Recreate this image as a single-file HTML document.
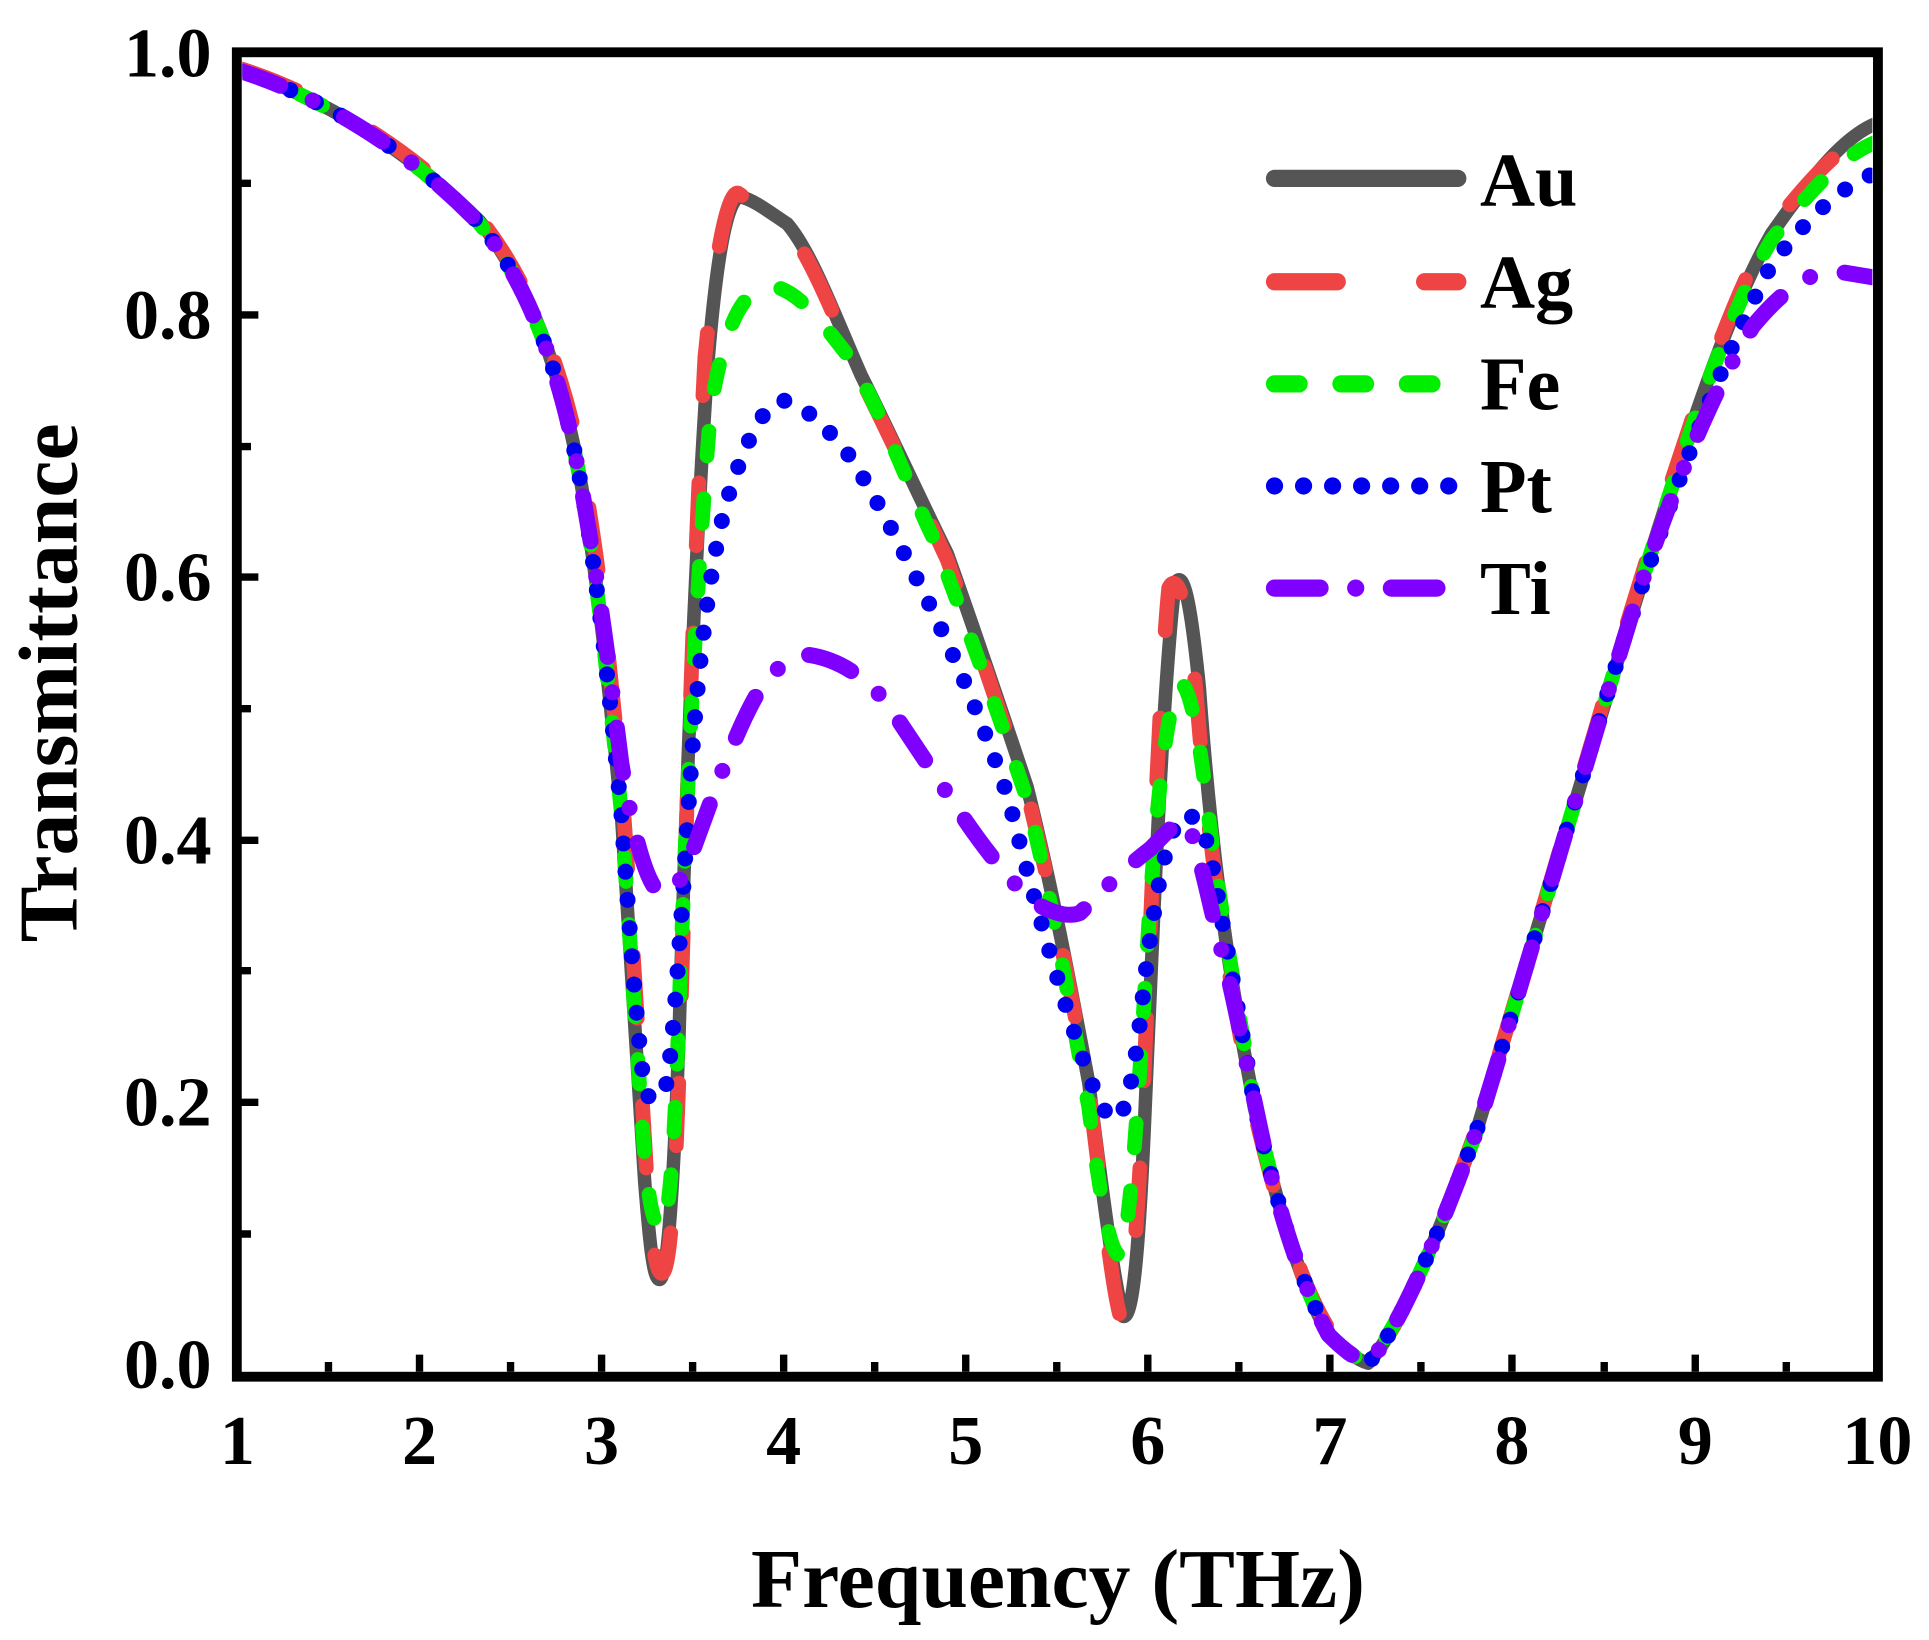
<!DOCTYPE html>
<html><head><meta charset="utf-8"><style>html,body{margin:0;padding:0;background:#fff}svg{display:block}</style></head>
<body>
<svg width="1929" height="1640" viewBox="0 0 1568 1333" preserveAspectRatio="none" xmlns="http://www.w3.org/2000/svg" font-family="'Liberation Serif',serif" font-weight="bold">
<defs>
<clipPath id="c"><rect x="197" y="47" width="1325" height="1068"/></clipPath>
</defs>
<g clip-path="url(#c)" fill="none" stroke-linejoin="round">
<!-- Au -->
<path stroke="#555" stroke-width="11" d="M193,57 C260,78 330,120 390,180 C430,230 455,300 470,380 C485,460 495,560 505,660 C512,760 518,860 524,960 C528,1010 531,1040 536,1040 C542,1040 547,980 552,840 C556,700 563,480 575,300 C583,200 592,160 602,160 C612,162 625,172 640,182 C660,205 680,260 700,305 C725,355 750,410 770,450 C795,520 815,580 835,640 C855,720 870,800 885,880 C895,960 905,1040 913,1070 C920,1072 925,1030 930,920 C937,760 945,560 955,475 C962,460 968,490 975,560 C985,700 1000,800 1020,900 C1040,990 1060,1050 1080,1085 C1095,1100 1105,1106 1112,1108 C1130,1090 1160,1030 1200,920 C1240,790 1280,650 1320,520 C1360,390 1400,260 1440,190 C1475,140 1500,110 1526,100"/>
<!-- Ag -->
<path stroke="#ef4444" stroke-width="12" stroke-linecap="round" stroke-dasharray="51 71" d="M193,55 C260,76 330,118 390,178 C430,228 458,300 473,380 C488,460 498,560 507,660 C514,760 520,860 526,960 C530,1010 533,1035 538,1035 C544,1035 549,980 553,840 C557,700 563,480 573,290 C582,200 592,155 600,157 C612,165 625,178 640,185 C660,210 680,262 700,308 C725,358 750,412 770,455 C795,525 815,585 835,645 C855,725 870,805 885,885 C895,965 903,1040 910,1068 C917,1070 923,1030 928,920 C935,760 942,560 950,478 C958,462 966,495 972,560 C983,700 1000,805 1020,905 C1040,990 1060,1048 1080,1080 C1095,1095 1105,1100 1114,1104 C1132,1088 1160,1030 1200,918 C1240,788 1280,648 1320,515 C1360,385 1400,255 1440,185 C1475,140 1500,115 1526,105"/>
<!-- Fe -->
<path stroke="#00ee00" stroke-width="12" stroke-linecap="round" stroke-dasharray="20 35" d="M193,57 C260,78 330,120 390,182 C430,232 455,302 470,382 C485,462 495,560 505,660 C512,760 518,860 524,940 C528,985 533,1000 538,998 C544,990 548,940 552,820 C557,680 565,480 578,330 C590,260 605,235 625,232 C650,235 670,265 690,290 C715,330 740,400 760,440 C790,520 815,590 835,650 C855,730 870,820 885,900 C895,980 903,1020 910,1020 C918,1010 925,900 932,780 C940,640 950,565 960,555 C968,560 975,600 982,660 C992,740 1005,810 1020,900 C1040,990 1060,1048 1080,1085 C1095,1100 1105,1106 1112,1106 C1130,1090 1160,1030 1200,920 C1240,790 1280,650 1320,520 C1360,390 1400,262 1440,195 C1475,150 1500,125 1526,115"/>
<!-- Pt -->
<path stroke="#0000ee" stroke-width="13" stroke-linecap="round" stroke-dasharray="0 23" d="M193,57 C260,78 330,120 390,182 C430,232 455,302 470,382 C485,462 495,560 505,660 C512,760 518,840 524,885 C530,900 537,895 542,880 C548,840 553,760 560,650 C567,540 577,460 590,410 C605,360 620,330 635,325 C655,330 670,345 690,370 C710,400 730,440 750,480 C775,530 800,590 820,650 C840,730 860,800 880,860 C892,895 900,910 907,910 C915,905 922,880 930,800 C940,720 948,680 960,663 C970,660 978,668 985,700 C995,760 1005,810 1020,900 C1040,990 1060,1048 1080,1085 C1095,1100 1105,1106 1112,1108 C1130,1090 1160,1030 1200,920 C1240,790 1280,650 1320,520 C1360,400 1400,290 1440,215 C1475,170 1500,150 1526,140"/>
<!-- Ti -->
<path stroke="#8000ff" stroke-width="13" stroke-linecap="round" stroke-dasharray="37 29 0 29" d="M193,57 C260,78 330,120 390,182 C430,232 455,302 470,382 C485,462 495,540 505,620 C515,680 525,715 535,725 C545,728 552,720 560,700 C575,660 595,600 615,565 C630,545 640,532 655,532 C680,535 700,548 720,570 C740,600 760,630 780,660 C800,690 820,715 840,733 C855,742 868,746 878,742 C895,725 915,705 935,690 C950,675 958,665 965,668 C975,690 985,745 995,780 C1005,820 1012,860 1025,920 C1040,990 1060,1048 1080,1085 C1095,1100 1105,1106 1112,1108 C1130,1090 1160,1030 1200,920 C1240,790 1280,650 1320,520 C1350,420 1390,320 1425,265 C1450,235 1470,222 1490,220 L1526,226"/>
</g>
<!-- frame -->
<rect x="192.5" y="42.5" width="1334" height="1076.5" fill="none" stroke="#000" stroke-width="8"/>
<g stroke="#000" stroke-width="6">
<path d="M341,1115v-14M489,1115v-14M637,1115v-14M785,1115v-14M933,1115v-14M1081,1115v-14M1229,1115v-14M1378,1115v-14"/>
<path d="M267,1115v-8M415,1115v-8M563,1115v-8M711,1115v-8M859,1115v-8M1007,1115v-8M1155,1115v-8M1304,1115v-8M1452,1115v-8"/>
<path d="M196,896h14M196,683h14M196,469h14M196,256h14"/>
<path d="M196,1003h8M196,789h8M196,576h8M196,363h8M196,149h8"/>
</g>
<g font-size="57" text-anchor="middle" fill="#000">
<text x="193" y="1190">1</text><text x="341" y="1190">2</text><text x="489" y="1190">3</text><text x="637" y="1190">4</text><text x="785" y="1190">5</text><text x="933" y="1190">6</text><text x="1081" y="1190">7</text><text x="1229" y="1190">8</text><text x="1378" y="1190">9</text><text x="1526" y="1190">10</text>
</g>
<g font-size="57" text-anchor="end" fill="#000">
<text x="172" y="1128">0.0</text><text x="172" y="915">0.2</text><text x="172" y="702">0.4</text><text x="172" y="488">0.6</text><text x="172" y="275">0.8</text><text x="172" y="62">1.0</text>
</g>
<text x="860" y="1306" font-size="68" text-anchor="middle">Frequency (THz)</text>
<text transform="translate(62,555) rotate(-90)" font-size="68" text-anchor="middle">Transmittance</text>
<!-- legend -->
<g fill="none" stroke-width="14" stroke-linecap="round">
<path d="M1036,145H1185" stroke="#555"/>
<path d="M1036,229H1185" stroke="#ef4444" stroke-dasharray="51 71"/>
<path d="M1036,312H1185" stroke="#00ee00" stroke-dasharray="20 34"/>
<path d="M1036,395H1185" stroke="#0000ee" stroke-dasharray="0 23.6"/>
<path d="M1036,478H1180" stroke="#8000ff" stroke-dasharray="37 29 0 29"/>
</g>
<g font-size="62" fill="#000">
<text x="1203" y="167">Au</text><text x="1203" y="250">Ag</text><text x="1203" y="333">Fe</text><text x="1203" y="416">Pt</text><text x="1203" y="499">Ti</text>
</g>
</svg>
</body></html>
